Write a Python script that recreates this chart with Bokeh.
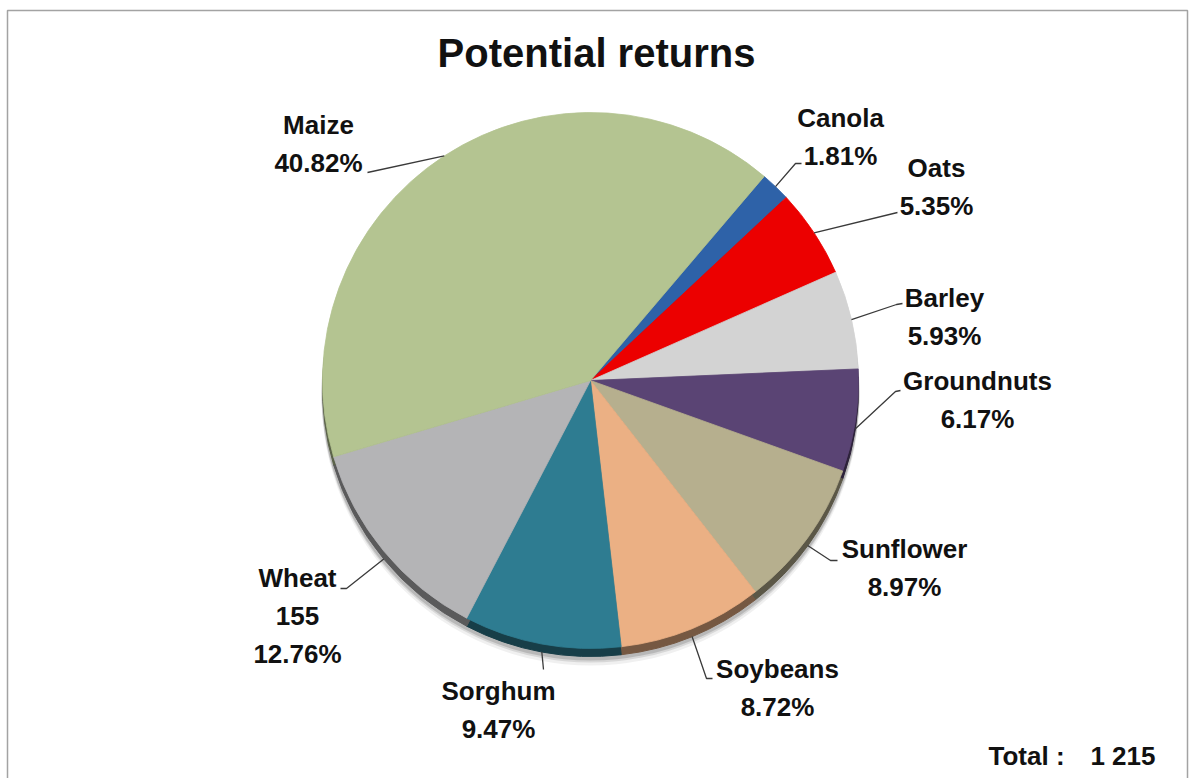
import numpy as np
from bokeh.plotting import figure
from bokeh.models import Range1d, ColumnDataSource
from bokeh.core.properties import value
from bokeh.embed import file_html
from bokeh.resources import INLINE

# ---------------- data ----------------
crops = ["Canola", "Oats", "Barley", "Groundnuts", "Sunflower",
         "Soybeans", "Sorghum", "Wheat", "Maize"]
shares = [1.81, 5.35, 5.93, 6.17, 8.97, 8.72, 9.47, 12.76, 40.82]
total = 1215
show_value = ["Wheat"]          # crops whose absolute value is printed
title = "Potential returns"
total_label = "Total :"

# ---------------- style / layout ----------------
colors = ["#2E62A8", "#EC0000", "#D3D3D3", "#5A4474", "#B6AF8E",
          "#EBB084", "#2E7C91", "#B4B4B6", "#B4C491"]
W, H = 1190, 778
CX, CY = 590, 380          # pie centre (pixels from top-left)
R = 268                    # pie radius (px)
RIM = 8                    # depth of the 3-D rim (px)
START = 40.4               # first slice starts this many degrees clockwise from 12 o'clock
FONT = "Liberation Sans"
FS = "26px"
LINE_GAP = 38

# label centre of first line (px), and leader start point(s) near the label (px)
label_pos = {
    "Canola": (840, 117), "Oats": (936, 167), "Barley": (944, 297),
    "Groundnuts": (977, 380), "Sunflower": (904, 548), "Soybeans": (777, 668),
    "Sorghum": (498, 690), "Wheat": (297, 577), "Maize": (318, 124),
}
leader_start = {
    "Canola": [(801, 163), (795, 163)], "Oats": [(897, 212)],
    "Barley": [(902, 303), (896, 304)], "Groundnuts": [(900, 390), (895, 391)],
    "Sunflower": [(837, 560), (830, 560)], "Soybeans": [(712, 678), (706, 678)],
    "Sorghum": [(543, 669)], "Wheat": [(340, 588), (346, 588)],
    "Maize": [(367, 172)],
}


def Y(py):
    return H - py


def darker(hexc, f):
    h = hexc.lstrip("#")
    r, g, b = (int(h[i:i + 2], 16) for i in (0, 2, 4))
    return "#%02x%02x%02x" % (int(r * f), int(g * f), int(b * f))


# slice geometry (clockwise from 12 o'clock)
sh = np.array(shares, dtype=float)
cum = np.concatenate([[0.0], np.cumsum(sh)]) / sh.sum() * 360.0
t0 = START + cum[:-1]
t1 = START + cum[1:]
tm = (t0 + t1) / 2
# bokeh angles: anticlockwise from +x  ->  math = 90 - t
start_ang = np.deg2rad(90 - t1)
end_ang = np.deg2rad(90 - t0)

p = figure(width=W, height=H, x_range=Range1d(0, W), y_range=Range1d(0, H),
           output_backend="svg", toolbar_location=None, min_border=0,
           background_fill_color="white", border_fill_color="white")
p.axis.visible = False
p.grid.visible = False
p.outline_line_color = None

# outer frame
p.quad(left=[7], right=[1187], top=[Y(10)], bottom=[Y(800)],
       fill_color=None, line_color="#A3A3A3", line_width=1.5)

src = ColumnDataSource(dict(start=start_ang, end=end_ang, color=colors,
                            rim=[darker(c, 0.5) for c in colors]))

# soft shadow
for off, a in [(16, 0.06), (13, 0.10), (11, 0.14)]:
    p.circle(x=[CX], y=[Y(CY + off)], radius=R + 1, fill_color="black",
             fill_alpha=a, line_color=None)
# 3-D rim
p.wedge(x=CX, y=Y(CY + RIM), radius=R, start_angle="start", end_angle="end",
        fill_color="rim", line_color="rim", line_width=1, source=src)
# top face
p.wedge(x=CX, y=Y(CY), radius=R, start_angle="start", end_angle="end",
        fill_color="color", line_color="color", line_width=0.8, source=src)

# leader lines
xs, ys = [], []
for i, c in enumerate(crops):
    t = np.deg2rad(tm[i])
    ex = CX + R * np.sin(t)
    ey = CY - R * np.cos(t)
    if np.cos(t) < 0:
        ey += RIM
    pts = leader_start[c] + [(ex, ey)]
    xs.append([q[0] for q in pts])
    ys.append([Y(q[1]) for q in pts])
p.multi_line(xs=xs, ys=ys, line_color="#3A3A3A", line_width=1.3)

# labels
tx, ty, tt = [], [], []
for i, c in enumerate(crops):
    lx, ly = label_pos[c]
    lines = [c]
    if c in show_value:
        lines.append(f"{round(shares[i] * total / 100):d}")
    lines.append(f"{shares[i]:.2f}%")
    for k, s in enumerate(lines):
        tx.append(lx)
        ty.append(Y(ly + k * LINE_GAP))
        tt.append(s)
p.text(x=tx, y=ty, text=tt, text_align="center", text_baseline="middle",
       text_font=value(FONT), text_font_style="bold", text_font_size=FS,
       text_color="#111111")

# title
p.text(x=[596], y=[Y(52)], text=[title], text_align="center",
       text_baseline="middle", text_font=value(FONT), text_font_style="bold",
       text_font_size="40px", text_color="#111111")

# total
p.text(x=[988], y=[Y(755)], text=[total_label],
       text_align="left", text_baseline="middle", text_font=value(FONT),
       text_font_style="bold", text_font_size=FS, text_color="#111111")
p.text(x=[1155], y=[Y(755)], text=[f"{total // 1000} {total % 1000:03d}"],
       text_align="right", text_baseline="middle", text_font=value(FONT),
       text_font_style="bold", text_font_size=FS, text_color="#111111")

open("out.html", "w").write(file_html(p, INLINE))
